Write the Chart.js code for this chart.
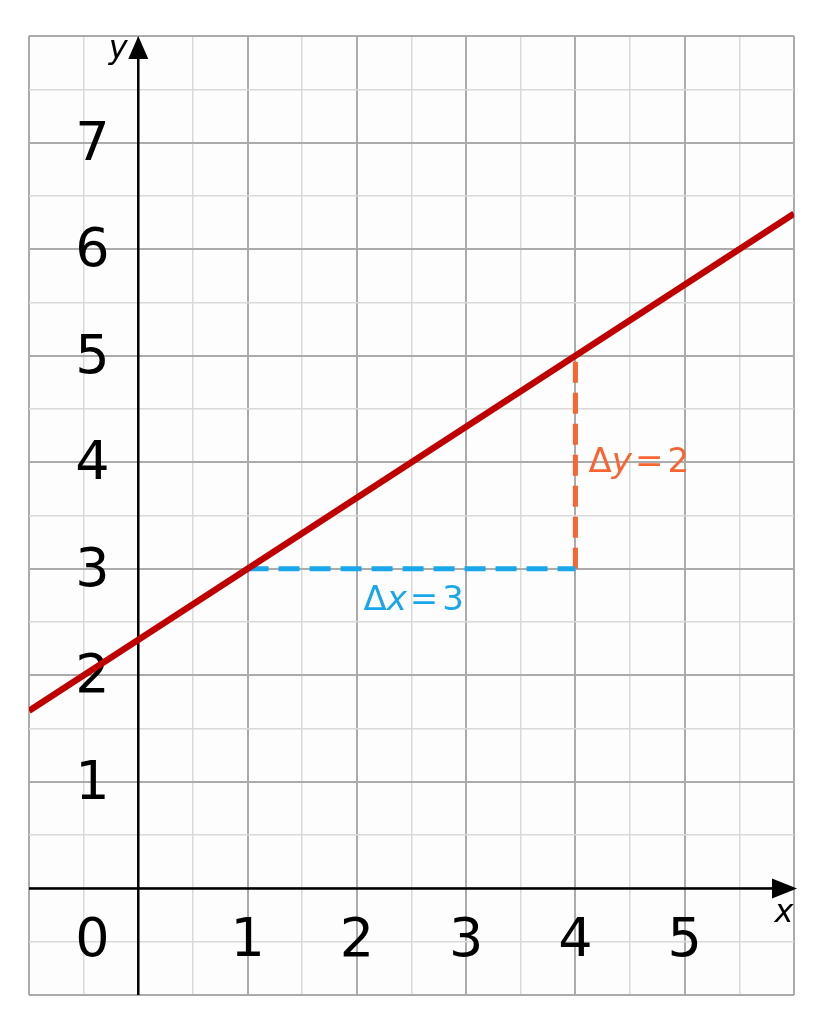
<!DOCTYPE html>
<html>
<head>
<meta charset="utf-8">
<script src="https://cdn.jsdelivr.net/npm/chart.js@4"></script>
<style>
  html, body { margin: 0; padding: 0; background: #fff; }
  #wrap { width: 824px; height: 1024px; position: relative; }
</style>
</head>
<body>
<div id="wrap"><canvas id="c" width="824" height="1024"></canvas></div>
<script>
/* slope triangle on y = 2/3 x + 7/3, drawn on a squared grid */

const X_RANGE = [-1, 6];
const Y_RANGE = [-1, 8];
const X_LABELS = [0, 1, 2, 3, 4, 5];
const Y_LABELS = [1, 2, 3, 4, 5, 6, 7];

// the straight line, read at the grid edges
const LINE_X = [-1, 6];
const LINE_Y = [1.667, 6.333];

// run and rise legs
const RUN_X = [1, 4];
const RUN_Y = [3, 3];
const RISE_X = [4, 4];
const RISE_Y = [3, 5];

const COLORS = {
  line: '#c00000',
  run: '#1aa6ea',
  rise: '#f86432',
  major: '#ababab',
  minor: '#d9d9d9',
  ink: '#000000',
  paper: '#fdfdfd',
};

const pts = (xs, ys) => xs.map((x, i) => ({ x, y: ys[i] }));

/* ---------- background + axes + tick labels (under the data) ---------- */
const underlay = {
  id: 'underlay',
  beforeDraw(chart) {
    const { ctx, chartArea: a } = chart;
    ctx.save();
    ctx.fillStyle = COLORS.paper;
    ctx.fillRect(a.left, a.top, a.right - a.left, a.bottom - a.top);
    ctx.restore();
  },
  beforeDatasetsDraw(chart) {
    const { ctx, chartArea: a, scales: { x, y } } = chart;
    const x0 = x.getPixelForValue(0);
    const y0 = y.getPixelForValue(0);
    ctx.save();

    // tick labels
    ctx.fillStyle = COLORS.ink;
    ctx.font = '54px "DejaVu Sans"';
    ctx.textAlign = 'center';
    ctx.textBaseline = 'middle';
    const labX = x.getPixelForValue(-0.42);
    Y_LABELS.forEach(v => ctx.fillText(String(v), labX, y.getPixelForValue(v) + 3));
    const labY = y.getPixelForValue(-0.5);
    ctx.fillText('0', labX, labY);
    X_LABELS.filter(v => v !== 0).forEach(v => ctx.fillText(String(v), x.getPixelForValue(v), labY));

    // axes
    ctx.strokeStyle = COLORS.ink;
    ctx.lineWidth = 2.5;
    ctx.beginPath();
    ctx.moveTo(a.left, y0); ctx.lineTo(a.right - 14, y0);
    ctx.moveTo(x0, a.bottom); ctx.lineTo(x0, a.top + 16);
    ctx.stroke();

    // arrow heads
    ctx.fillStyle = COLORS.ink;
    ctx.beginPath();
    ctx.moveTo(a.right + 3, y0);
    ctx.lineTo(a.right - 22, y0 - 10);
    ctx.lineTo(a.right - 22, y0 + 10);
    ctx.closePath();
    ctx.fill();
    ctx.beginPath();
    ctx.moveTo(x0, a.top);
    ctx.lineTo(x0 - 10, a.top + 23);
    ctx.lineTo(x0 + 10, a.top + 23);
    ctx.closePath();
    ctx.fill();

    // axis names
    ctx.font = 'italic 32px "DejaVu Sans"';
    ctx.textAlign = 'center';
    ctx.textBaseline = 'alphabetic';
    ctx.fillText('y', x0 - 20, a.top + 22);
    ctx.fillText('x', a.right - 10, y0 + 34);
    ctx.restore();
  },
};

/* ---------- Δ annotations ---------- */
function drawDelta(ctx, letter, value, left, mid, color) {
  ctx.save();
  ctx.fillStyle = color;
  ctx.textBaseline = 'middle';
  ctx.textAlign = 'left';
  let cx = left;
  const put = (txt, font, gap) => {
    ctx.font = font;
    ctx.fillText(txt, cx, mid);
    cx += ctx.measureText(txt).width + gap;
  };
  put('Δ', '34px "DejaVu Sans"', 0);
  put(letter, 'italic 34px "DejaVu Sans"', 3);
  put('=', '34px "DejaVu Sans"', 4);
  put(String(value), '34px "DejaVu Sans"', 0);
  ctx.restore();
}

const notes = {
  id: 'notes',
  afterDatasetsDraw(chart) {
    const { ctx, scales: { x, y } } = chart;
    drawDelta(ctx, 'x', RUN_X[1] - RUN_X[0], x.getPixelForValue(2.06), y.getPixelForValue(2.7), COLORS.run);
    drawDelta(ctx, 'y', RISE_Y[1] - RISE_Y[0], x.getPixelForValue(4.12), y.getPixelForValue(3.99), COLORS.rise);
  },
};

const gridColor = ctx => {
  const v = ctx.tick ? ctx.tick.value : 0;
  return Math.abs(v - Math.round(v)) < 1e-6 ? COLORS.major : COLORS.minor;
};
const gridWidth = ctx => {
  const v = ctx.tick ? ctx.tick.value : 0;
  return Math.abs(v - Math.round(v)) < 1e-6 ? 2 : 1.5;
};

new Chart(document.getElementById('c'), {
  type: 'scatter',
  data: {
    datasets: [
      {
        data: pts(LINE_X, LINE_Y),
        showLine: true,
        borderColor: COLORS.line,
        borderWidth: 6.5,
        pointRadius: 0,
        order: 0,
      },
      {
        data: pts(RUN_X, RUN_Y),
        showLine: true,
        borderColor: COLORS.run,
        borderWidth: 5,
        borderDash: [21, 10],
        borderCapStyle: 'butt',
        pointRadius: 0,
        order: 1,
      },
      {
        data: pts(RISE_X, RISE_Y),
        showLine: true,
        borderColor: COLORS.rise,
        borderWidth: 5,
        borderDash: [21, 10],
        borderCapStyle: 'butt',
        pointRadius: 0,
        order: 1,
      },
    ],
  },
  options: {
    responsive: false,
    animation: false,
    layout: { padding: { left: 29, right: 30, top: 36, bottom: 29 } },
    plugins: { legend: { display: false }, tooltip: { enabled: false } },
    scales: {
      x: {
        type: 'linear',
        min: X_RANGE[0], max: X_RANGE[1],
        ticks: { display: false, stepSize: 0.5 },
        grid: { color: gridColor, lineWidth: gridWidth, drawTicks: false },
        border: { display: false },
      },
      y: {
        type: 'linear',
        min: Y_RANGE[0], max: Y_RANGE[1],
        ticks: { display: false, stepSize: 0.5 },
        grid: { color: gridColor, lineWidth: gridWidth, drawTicks: false },
        border: { display: false },
      },
    },
  },
  plugins: [underlay, notes],
});
</script>
</body>
</html>
